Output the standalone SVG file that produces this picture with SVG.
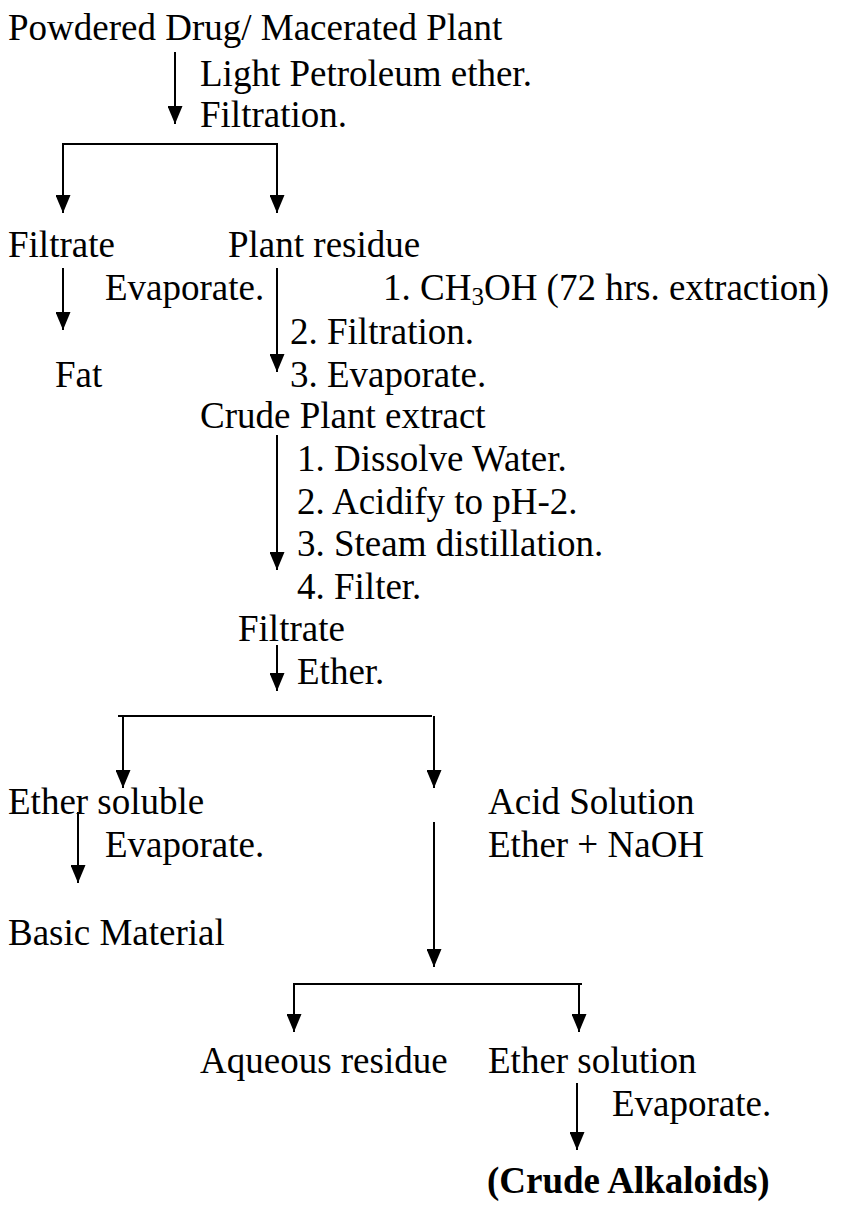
<svg xmlns="http://www.w3.org/2000/svg" width="844" height="1205" viewBox="0 0 844 1205">
<style>
text{font-family:'Liberation Serif','Times New Roman',serif;font-size:37px;fill:#000}
.b{font-weight:bold}
.c line{stroke:#000;stroke-width:2;fill:none}
</style>
<defs>
<marker id="ah" viewBox="0 0 18 15" refX="18" refY="7.5" markerWidth="18" markerHeight="15" markerUnits="userSpaceOnUse" orient="auto">
<path d="M0,0 L18,7.5 L0,15 z" fill="#000"/>
</marker>
</defs>
<rect width="844" height="1205" fill="#fff"/>
<g class="c" id="connectors">
<line x1="175" y1="52" x2="175" y2="124" marker-end="url(#ah)"/>
<line x1="62" y1="144" x2="278" y2="144"/>
<line x1="63" y1="144" x2="63" y2="213" marker-end="url(#ah)"/>
<line x1="277" y1="144" x2="277" y2="213" marker-end="url(#ah)"/>
<line x1="63" y1="268" x2="63" y2="330" marker-end="url(#ah)"/>
<line x1="277" y1="268" x2="277" y2="372" marker-end="url(#ah)"/>
<line x1="277" y1="435" x2="277" y2="570" marker-end="url(#ah)"/>
<line x1="277" y1="645" x2="277" y2="691" marker-end="url(#ah)"/>
<line x1="118" y1="716" x2="432" y2="716"/>
<line x1="123" y1="716" x2="123" y2="788" marker-end="url(#ah)"/>
<line x1="434" y1="716" x2="434" y2="788" marker-end="url(#ah)"/>
<line x1="78" y1="812" x2="78" y2="883" marker-end="url(#ah)"/>
<line x1="434" y1="822" x2="434" y2="967" marker-end="url(#ah)"/>
<line x1="293" y1="984" x2="582" y2="984"/>
<line x1="294" y1="984" x2="294" y2="1032" marker-end="url(#ah)"/>
<line x1="579" y1="984" x2="579" y2="1032" marker-end="url(#ah)"/>
<line x1="577" y1="1083" x2="577" y2="1150" marker-end="url(#ah)"/>
</g>
<g font-family="Liberation Serif, Times New Roman, serif">
<g id="n-start"><text x="8" y="40">Powdered Drug/ Macerated Plant</text></g>
<g id="l-step1"><text x="200" y="86">Light Petroleum ether.</text><text x="200" y="127">Filtration.</text></g>
<g id="n-filtrate1"><text x="8" y="257">Filtrate</text></g>
<g id="n-residue"><text x="228" y="257">Plant residue</text></g>
<g id="l-evap1"><text x="105" y="300">Evaporate.</text></g>
<g id="l-step2"><text x="383" y="300">1. CH<tspan font-size="25" dy="5">3</tspan><tspan dy="-5">OH (72 hrs. extraction)</tspan></text><text x="290" y="344">2. Filtration.</text><text x="290" y="387">3. Evaporate.</text></g>
<g id="n-fat"><text x="55" y="387">Fat</text></g>
<g id="n-crude"><text x="200" y="428">Crude Plant extract</text></g>
<g id="l-step3"><text x="297" y="471">1. Dissolve Water.</text><text x="297" y="514">2. Acidify to pH-2.</text><text x="297" y="556">3. Steam distillation.</text><text x="297" y="599">4. Filter.</text></g>
<g id="n-filtrate2"><text x="238" y="641">Filtrate</text></g>
<g id="l-ether"><text x="297" y="684">Ether.</text></g>
<g id="n-ethersol"><text x="8" y="814">Ether soluble</text></g>
<g id="l-evap2"><text x="105" y="857">Evaporate.</text></g>
<g id="n-acid"><text x="488" y="814">Acid Solution</text></g>
<g id="l-naoh"><text x="488" y="857">Ether + NaOH</text></g>
<g id="n-basic"><text x="8" y="945">Basic Material</text></g>
<g id="n-aqueous"><text x="200" y="1073">Aqueous residue</text></g>
<g id="n-ethersolution"><text x="488" y="1073">Ether solution</text></g>
<g id="l-evap3"><text x="612" y="1116">Evaporate.</text></g>
<g id="n-alkaloids"><text class="b" x="487" y="1193">(Crude Alkaloids)</text></g>
</g>
</svg>
